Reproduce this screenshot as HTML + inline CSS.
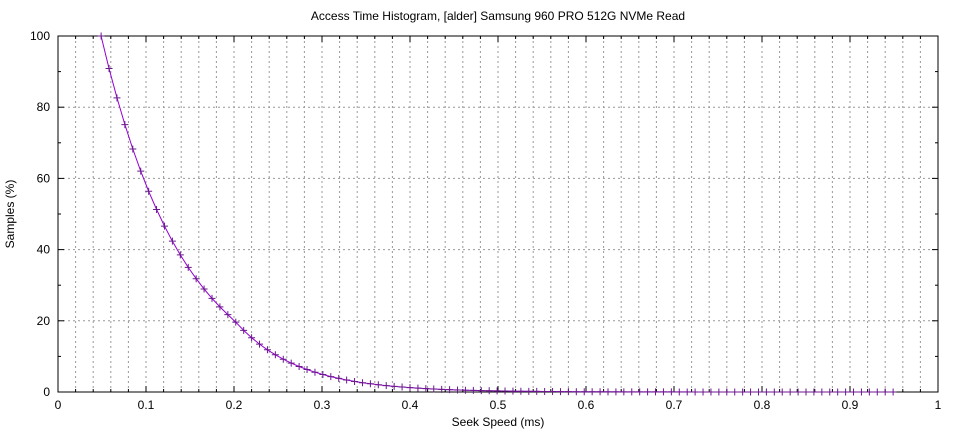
<!DOCTYPE html>
<html><head><meta charset="utf-8"><style>
body{margin:0;background:#fff}
svg text{font-family:"Liberation Sans",sans-serif;font-size:12px;fill:#000}
</style></head><body>
<svg id="s" width="960" height="432" xmlns="http://www.w3.org/2000/svg">
<rect width="960" height="432" fill="#fff"/>
<g id="g"></g>
<text x="498" y="20" text-anchor="middle">Access Time Histogram, [alder] Samsung 960 PRO 512G NVMe Read</text>
<text x="498" y="426" text-anchor="middle">Seek Speed (ms)</text>
<text transform="translate(14,214) rotate(-90)" text-anchor="middle">Samples (%)</text>
</svg>
<script>
var g=document.getElementById('g'),h='';
var L=58,R=938,T=36,B=392;
function X(v){return L+v*(R-L)}function Y(v){return B-v/100*(B-T)}
for(var i=1;i<50;i++){var x=X(i*0.02);h+='<line x1="'+x+'" y1="'+T+'" x2="'+x+'" y2="'+B+'" stroke="#999" stroke-dasharray="2,3"/>';}
for(var j=1;j<5;j++){var y=Y(j*20);h+='<line x1="'+L+'" y1="'+y+'" x2="'+R+'" y2="'+y+'" stroke="#999" stroke-dasharray="2,3"/>';}
for(var i=0;i<=10;i++){var x=X(i/10);h+='<line x1="'+x+'" y1="'+B+'" x2="'+x+'" y2="'+(B-6)+'" stroke="#000"/><line x1="'+x+'" y1="'+T+'" x2="'+x+'" y2="'+(T+6)+'" stroke="#000"/>';
h+='<text x="'+x+'" y="'+(B+17)+'" text-anchor="middle">'+(i==0?'0':i==10?'1':(i/10).toFixed(1))+'</text>';}
for(var i=1;i<50;i++){if(i%5==0)continue;var x=X(i*0.02);h+='<line x1="'+x+'" y1="'+B+'" x2="'+x+'" y2="'+(B-3)+'" stroke="#000"/><line x1="'+x+'" y1="'+T+'" x2="'+x+'" y2="'+(T+3)+'" stroke="#000"/>';}
for(var j=0;j<=10;j++){var y=Y(j*10),l=j%2?3:6;h+='<line x1="'+L+'" y1="'+y+'" x2="'+(L+l)+'" y2="'+y+'" stroke="#000"/><line x1="'+R+'" y1="'+y+'" x2="'+(R-l)+'" y2="'+y+'" stroke="#000"/>';
if(j%2==0)h+='<text x="'+(L-8)+'" y="'+(y+4)+'" text-anchor="end">'+(j*10)+'</text>';}
h+='<rect x="'+L+'" y="'+T+'" width="'+(R-L)+'" height="'+(B-T)+'" fill="none" stroke="#000"/>';
function f(x){var l;if(x<0.2)l=4.605-10.6*(x-0.049);else l=4.605-10.6*0.151-14*(x-0.2);return Math.exp(l);}
var pts=[],m='';
for(var i=0;i<=100;i++){var xv=0.049+0.009*i,yv=Math.min(100,f(xv));var px=X(xv),py=Y(yv);pts.push(px.toFixed(1)+','+py.toFixed(1));
m+='<path d="M'+(px-3.5)+' '+py+'h7M'+px+' '+(py-3.5)+'v7" stroke="#6a1a8a"/>';}
h+='<polyline points="'+pts.join(' ')+'" fill="none" stroke="#9400d3"/>'+m;
g.innerHTML=h;
</script>
</body></html>
